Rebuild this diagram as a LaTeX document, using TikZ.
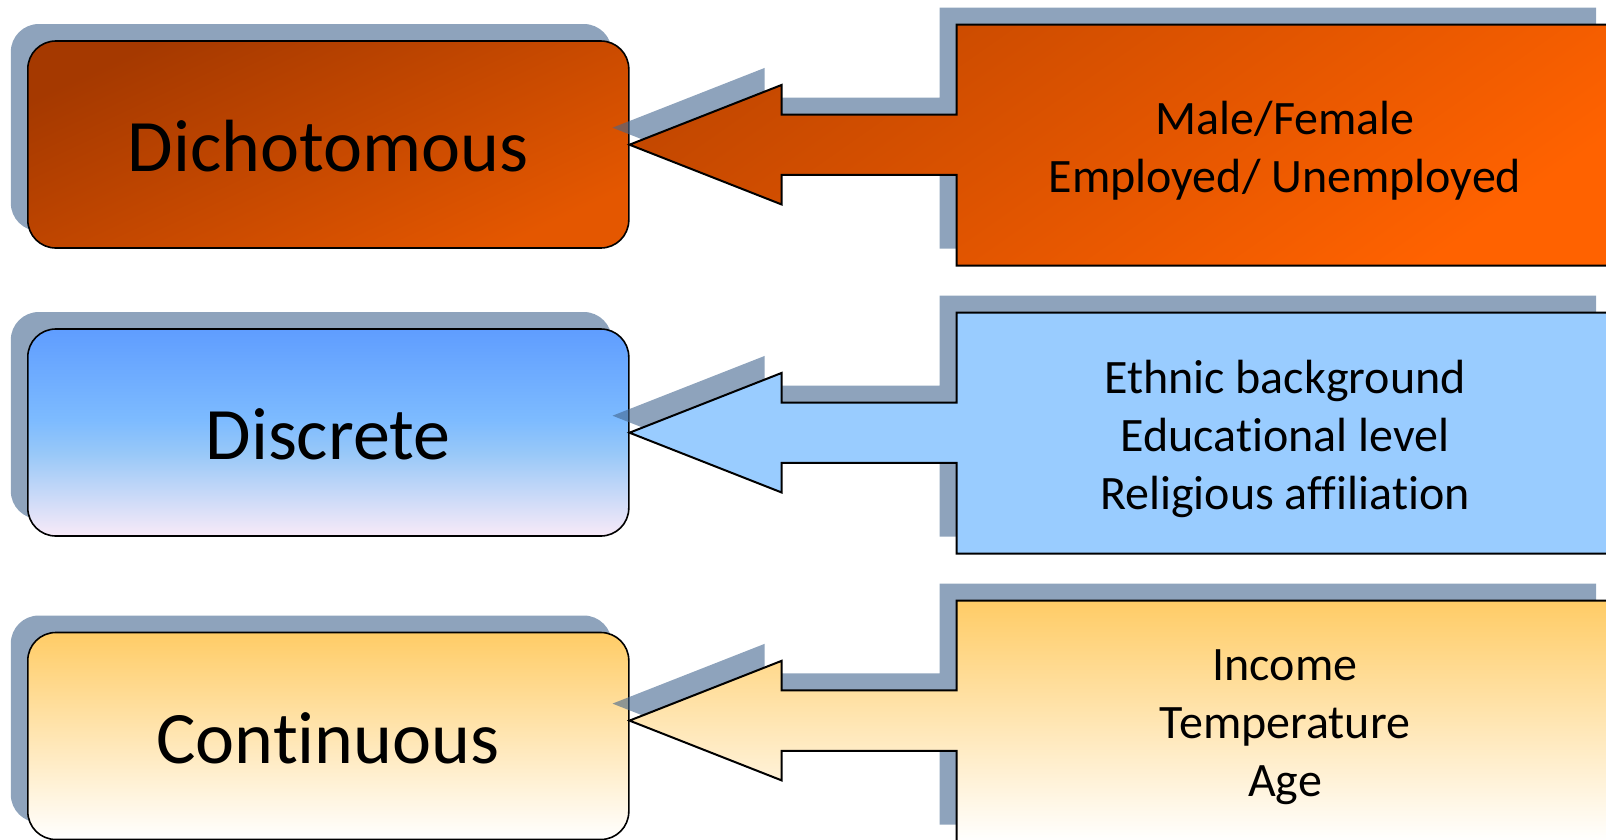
\documentclass[tikz,border=0pt]{standalone}
\usepackage{fontspec}
\setmainfont{Carlito}[RawFeature={-liga}]
\usetikzlibrary{shadows}
\definecolor{shadowc}{RGB}{67,102,143}
\definecolor{oTopL}{RGB}{165,57,0}
\definecolor{oBotL}{RGB}{228,87,0}
\definecolor{oTopR}{RGB}{196,72,0}
\definecolor{oBotR}{RGB}{255,98,0}
\definecolor{bTop}{RGB}{95,157,255}
\definecolor{bMid}{RGB}{125,187,255}
\definecolor{bMid2}{RGB}{152,200,248}
\definecolor{bBot}{RGB}{248,234,248}
\definecolor{bFlat}{RGB}{153,204,255}
\definecolor{yTop}{RGB}{255,204,102}
\pgfdeclareverticalshading{blueshade}{100bp}{color(0bp)=(bBot); color(25bp)=(bBot); color(45bp)=(bMid2); color(53bp)=(bMid); color(75bp)=(bTop); color(100bp)=(bTop)}
\newcommand\calloutpath[1]{(956.6,#1-120) -- (1613,#1-120) -- (1613,#1+121) -- (956.6,#1+121) -- (956.6,#1+30.2) -- (781.7,#1+30.2) -- (781.7,#1+59.8) -- (629.5,#1) -- (781.7,#1-59.8) -- (781.7,#1-30.2) -- (956.6,#1-30.2) -- cycle}
\begin{document}
\begin{tikzpicture}[x=1pt,y=-1pt,
  leftbox/.style={draw=black, line width=1.6pt, rounded corners=28pt,
    minimum width=601pt, minimum height=207pt, inner sep=0pt, outer sep=0pt,
    font=\fontsize{74}{88}\selectfont,
    drop shadow={shadow xshift=-17pt, shadow yshift=17pt, fill=shadowc, opacity=0.6}},
  lefttext/.style={inner sep=0pt, font=\fontsize{74}{88}\selectfont},
  calloutshadow/.style={fill=shadowc, opacity=0.6, shift={(-17,-17)}},
  calloutline/.style={draw=black, line width=2pt, line join=miter},
  rtext/.style={align=center, font=\fontsize{48}{58}\selectfont, inner sep=0pt}]
\useasboundingbox (0,0) rectangle (1606,839);
\clip (0,0) rectangle (1606,839);
% left boxes
\node[leftbox, top color=oTopL, bottom color=oBotL, shading angle=25] (b1) at (328.3,144.5) {};
\node[leftbox, shading=blueshade] (b2) at (328.3,432.5) {};
\node[leftbox, top color=yTop, bottom color=white] (b3) at (328.3,736) {};
\node[lefttext] (t1) at (328,146.5) {Dichotomous};
\node[lefttext] (t2) at (328,434) {Discrete};
\node[lefttext] (t3) at (328,738) {Continuous};
% callout shadows
\fill[calloutshadow] \calloutpath{144.7};
\fill[calloutshadow] \calloutpath{432.7};
\fill[calloutshadow] \calloutpath{720.6};
% callouts
\shade[calloutline, top color=oTopR, bottom color=oBotR, shading angle=35] \calloutpath{144.7};
\filldraw[calloutline, fill=bFlat] \calloutpath{432.7};
\shade[calloutline, top color=yTop, bottom color=white] \calloutpath{720.6};
% texts
\node[rtext] (r1) at (1285,151) {Male/Female\\Employed/ Unemployed};
\node[rtext] (r2) at (1285,439) {Ethnic background\\Educational level\\Religious affiliation};
\node[rtext] (r3) at (1285,727) {Income\\Temperature\\Age};
\end{tikzpicture}
\end{document}
